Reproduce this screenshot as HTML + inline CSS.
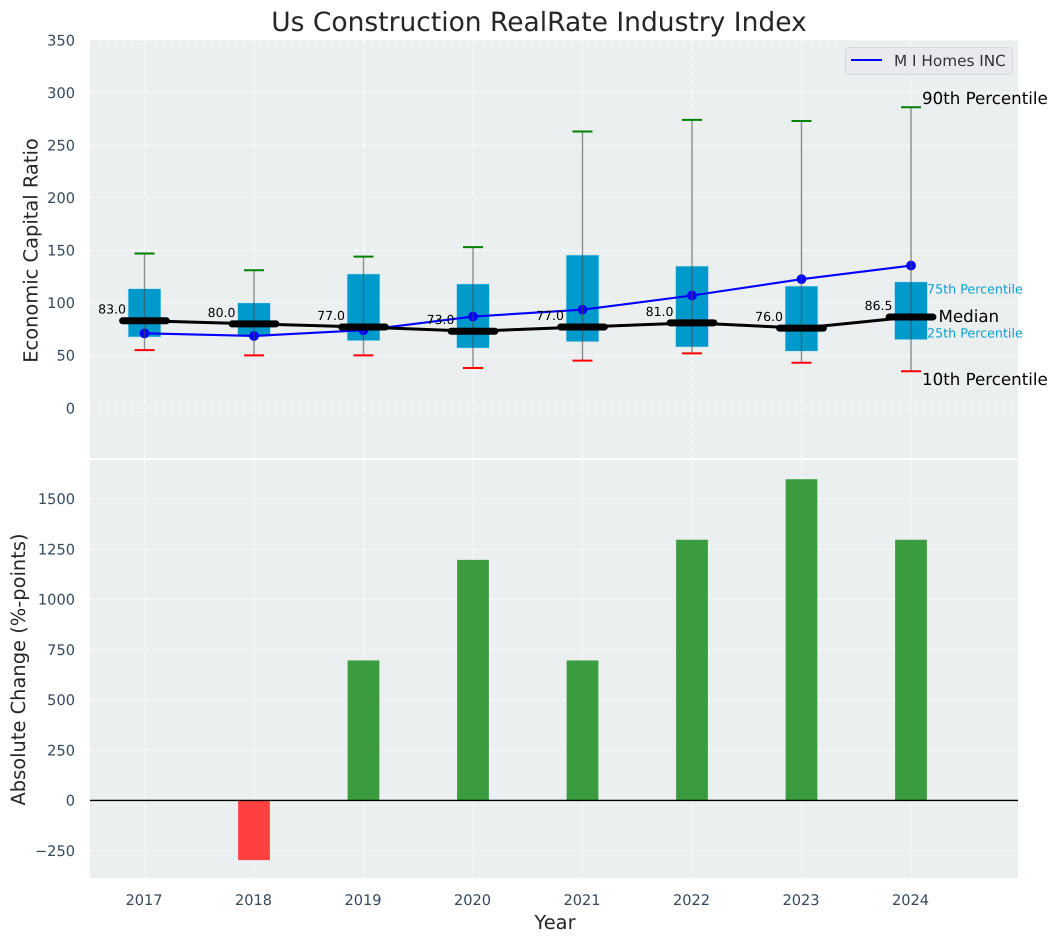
<!DOCTYPE html>
<html>
<head>
<meta charset="utf-8">
<style>
html,body{margin:0;padding:0;background:#fff;}
svg{display:block;}
text{font-family:"DejaVu Sans","Liberation Sans",sans-serif;text-rendering:geometricPrecision;}
</style>
</head>
<body>
<svg id="chart" width="1057" height="942" viewBox="0 0 1057 942" xmlns="http://www.w3.org/2000/svg">
  <rect x="90" y="40" width="928" height="418" fill="#ebeff0"/>
  <rect x="90" y="460" width="928" height="418" fill="#ebeff0"/>
  <g id="grid"></g>
  <g id="marks-lower"></g>
  <g id="marks-upper"></g>
  <g id="labels"></g>
  <text x="539" y="31" font-size="26.5" fill="#262626" text-anchor="middle">Us Construction RealRate Industry Index</text>
  <text transform="translate(37.5,250.5) rotate(-90)" font-size="19.44" fill="#262626" text-anchor="middle">Economic Capital Ratio</text>
  <text transform="translate(25,669.5) rotate(-90)" font-size="19.44" fill="#262626" text-anchor="middle">Absolute Change (%-points)</text>
  <text x="555" y="929" font-size="19.44" fill="#262626" text-anchor="middle">Year</text>
  <text x="922" y="104" font-size="16.67" fill="#000">90th Percentile</text>
  <text x="927" y="293.5" font-size="12.7" fill="#0e9fcf">75th Percentile</text>
  <text x="938.5" y="322" font-size="16.67" fill="#000">Median</text>
  <text x="927" y="337.5" font-size="12.7" fill="#0e9fcf">25th Percentile</text>
  <text x="922" y="385" font-size="16.67" fill="#000">10th Percentile</text>
  <g>
    <rect x="845.5" y="47.5" width="167" height="27" rx="4" fill="#e9eaef" stroke="#d6d7da"/>
    <line x1="851" x2="882" y1="60" y2="60" stroke="#0000ff" stroke-width="2"/>
    <text x="894" y="66" font-size="15.28" fill="#333">M I Homes INC</text>
  </g>
</svg>
<script>
const years = [2017, 2018, 2019, 2020, 2021, 2022, 2023, 2024];
const p90 = [147, 131, 144, 153, 263, 274, 273, 286];
const p75 = [113.5, 100, 127.5, 118, 145.5, 135, 116, 120];
const medians = [83, 80, 77, 73, 77, 81, 76, 86.5];
const p25 = [67.5, 68, 64, 57, 63, 58, 54, 65];
const p10 = [55, 50, 50, 38, 45, 52, 43, 35];
const companyRatio = [71, 68.5, 74, 87, 93.5, 107, 122.5, 135.5];
const absoluteChange = [0, -297, 696, 1196, 696, 1296, 1597, 1296];
const upperTicks = [0, 50, 100, 150, 200, 250, 300, 350];
const lowerTicks = [-250, 0, 250, 500, 750, 1000, 1250, 1500];

const NS = 'http://www.w3.org/2000/svg';
const xScale = v => 144.5 + (v - 2017) * 109.5;
const yUpper = v => 408 - v * 1.0514;
const yLower = v => 800.4 - v * 0.2011;

function make(parent, tag, attrs, text) {
  const el = document.createElementNS(NS, tag);
  for (const k in attrs) el.setAttribute(k, attrs[k]);
  if (text !== undefined) el.textContent = text;
  parent.appendChild(el);
  return el;
}
const grid = document.getElementById('grid');
const upper = document.getElementById('marks-upper');
const lower = document.getElementById('marks-lower');
const labels = document.getElementById('labels');
const gridStyle = {stroke: '#ffffff', 'stroke-width': 1.1, 'stroke-dasharray': '5 3', opacity: 0.85};

upperTicks.forEach(t => {
  const g = make(grid, 'line', {x1: 90, x2: 1018, y1: yUpper(t), y2: yUpper(t), ...gridStyle});
  
  
  const l = make(labels, 'text', {x: 75, y: yUpper(t) + 5.3, 'font-size': 14.58, fill: '#34495e', 'text-anchor': 'end'}, String(t));
  
  
});
lowerTicks.forEach(t => {
  const g = make(grid, 'line', {x1: 90, x2: 1018, y1: yLower(t), y2: yLower(t), ...gridStyle});
  
  
  const l = make(labels, 'text', {x: 75, y: yLower(t) + 5.3, 'font-size': 14.58, fill: '#34495e', 'text-anchor': 'end'}, String(t).replace('-', '\u2212'));
  
  
});
years.forEach(y => {
  const a = make(grid, 'line', {x1: xScale(y), x2: xScale(y), y1: 40, y2: 458, ...gridStyle});
  
  
  const b = make(grid, 'line', {x1: xScale(y), x2: xScale(y), y1: 460, y2: 878, ...gridStyle});
  
  
  const l = make(labels, 'text', {x: xScale(y) - 0.5, y: 905, 'font-size': 14.58, fill: '#34495e', 'text-anchor': 'middle'}, String(y));
  
  
});

// lower bars
const barHalf = 0.145;
years.forEach((y, i) => {
  const v = absoluteChange[i];
  const top = Math.min(yLower(0), yLower(v));
  const h = Math.abs(yLower(v) - yLower(0));
  const bar = make(lower, 'rect', {x: xScale(y - barHalf), y: top, width: xScale(y + barHalf) - xScale(y - barHalf), height: h, fill: v < 0 ? '#ff4040' : '#3a9c3e'});
  
  
});
const zero = make(lower, 'line', {x1: 90, x2: 1018, y1: yLower(0), y2: yLower(0), stroke: '#000', 'stroke-width': 1.4});



// boxes
years.forEach((y, i) => {
  const box = make(upper, 'rect', {x: xScale(y - 0.15), y: yUpper(p75[i]), width: xScale(y + 0.15) - xScale(y - 0.15), height: yUpper(p25[i]) - yUpper(p75[i]), fill: '#0099cc', stroke: '#bfe6f2', 'stroke-width': 0.6});
  
  
});

// company line
const bluePts = years.map((y, i) => xScale(y) + ',' + yUpper(companyRatio[i])).join(' ');
const blue = make(upper, 'polyline', {points: bluePts, fill: 'none', stroke: '#0000ff', 'stroke-width': 2.1});


years.forEach((y, i) => {
  const d = make(upper, 'circle', {cx: xScale(y), cy: yUpper(companyRatio[i]), r: 4.9, fill: '#0000ff'});
  
  
});

// whiskers and caps
years.forEach((y, i) => {
  const w = make(upper, 'line', {x1: xScale(y), x2: xScale(y), y1: yUpper(p90[i]), y2: yUpper(p10[i]), stroke: '#4a4f50', 'stroke-width': 1.4, opacity: 0.62});
  
  
  const c1 = make(upper, 'line', {x1: xScale(y) - 10, x2: xScale(y) + 10, y1: yUpper(p90[i]), y2: yUpper(p90[i]), stroke: '#008000', 'stroke-width': 2});
  
  
  const c2 = make(upper, 'line', {x1: xScale(y) - 10, x2: xScale(y) + 10, y1: yUpper(p10[i]), y2: yUpper(p10[i]), stroke: '#ff0000', 'stroke-width': 2});
  
  
});

// median line
const medPts = years.map((y, i) => xScale(y) + ',' + yUpper(medians[i])).join(' ');
const med = make(upper, 'polyline', {points: medPts, fill: 'none', stroke: '#000', 'stroke-width': 3});


years.forEach((y, i) => {
  const m = make(upper, 'line', {x1: xScale(y - 0.2), x2: xScale(y + 0.2), y1: yUpper(medians[i]), y2: yUpper(medians[i]), stroke: '#000', 'stroke-width': 7, 'stroke-linecap': 'round'});
  
  
  const t = make(upper, 'text', {x: xScale(y) - 18.5, y: yUpper(medians[i]) - 7, 'font-size': 12.5, fill: '#000', 'text-anchor': 'end'}, medians[i].toFixed(1));
  
  
});
</script>
</body>
</html>
